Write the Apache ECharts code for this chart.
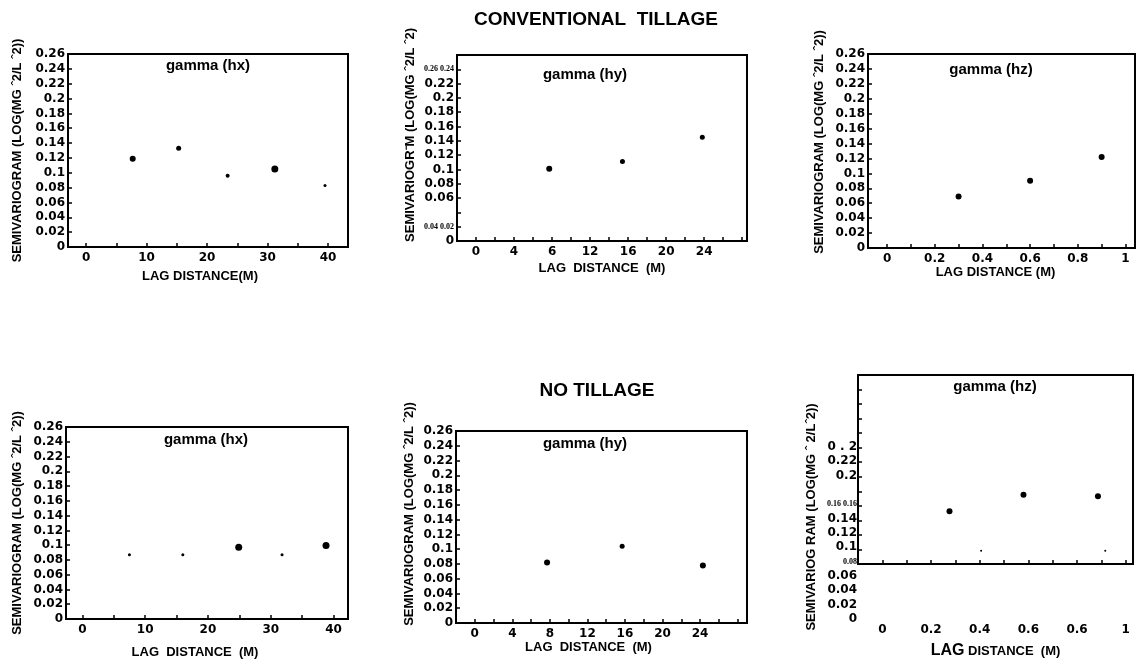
<!DOCTYPE html>
<html>
<head>
<meta charset="utf-8">
<script src="https://cdn.jsdelivr.net/npm/echarts@6/dist/echarts.min.js"></script>
<style>
  html, body { margin: 0; padding: 0; background: #fff; }
  #main { width: 1138px; height: 660px; }
</style>
</head>
<body>
<div id="main"></div>
<script>
// conventional tillage
const hxConvLag = [7.7, 15.3, 23.4, 31.2, 39.5];
const hxConvGamma = [0.119, 0.133, 0.096, 0.105, 0.083];
const hxConvDot = [6, 5, 4, 7, 3];

const hyConvLag = [7.7, 15.4, 23.8];
const hyConvGamma = [0.101, 0.111, 0.145];
const hyConvDot = [6, 5, 5];

const hzConvLag = [0.3, 0.6, 0.9];
const hzConvGamma = [0.069, 0.09, 0.122];
const hzConvDot = [6, 6, 6];

// no tillage
const hxNoLag = [7.5, 16, 24.9, 31.8, 38.8];
const hxNoGamma = [0.087, 0.087, 0.097, 0.087, 0.0995];
const hxNoDot = [3, 3, 7, 3, 7];

const hyNoLag = [7.7, 15.7, 24.3];
const hyNoGamma = [0.082, 0.104, 0.078];
const hyNoDot = [6, 5, 6];

const hzNoLag = [0.276, 0.58, 0.886, 0.406, 0.916];
const hzNoGamma = [0.15, 0.173, 0.171, 0.095, 0.095];
const hzNoDot = [6, 6, 6, 2, 2];

// tick labels
const lagTicksM = [0, 10, 20, 30, 40];
const lagTextM = ['0', '10', '20', '30', '40'];
const lagTicksY = [0, 4, 8, 12, 16, 20, 24];
const lagTextYConv = ['0', '4', '6', '12', '16', '20', '24'];
const lagTextYNo = ['0', '4', '8', '12', '16', '20', '24'];
const lagTicksZ = [0, 0.2, 0.4, 0.6, 0.8, 1];
const lagTextZConv = ['0', '0.2', '0.4', '0.6', '0.8', '1'];
const lagTextZNo = ['0', '0.2', '0.4', '0.6', '0.6', '1'];

const gammaTicksHyConv = [0, 0.02, 0.06, 0.08, 0.1, 0.12, 0.14, 0.16, 0.18, 0.2, 0.22, 0.24];
const gammaTextHyConv = ['0', '{s|0.04 0.02}', '0.06', '0.08', '0.1', '0.12', '0.14', '0.16', '0.18', '0.2', '0.22', '{s|0.26 0.24}'];
const gammaTicksHzNo = [0, 0.02, 0.04, 0.06, 0.08, 0.1, 0.12, 0.14, 0.16, 0.2, 0.22, 0.24];
const gammaTextHzNo = ['0', '0.02', '0.04', '0.06', '{s|0.08}', '0.1', '0.12', '0.14', '{s|0.16 0.16}', '0.2', '0.22', '0 . 2'];

const yTitle = 'SEMIVARIOGRAM (LOG(MG \u02C62/L \u02C62))';

function lookup(ticks, text) {
  return function (v) {
    const i = ticks.findIndex(t => Math.abs(t - v) < 1e-6);
    return i >= 0 ? text[i] : '';
  };
}

const labelFont = { color: '#000', fontFamily: 'DejaVu Sans', fontWeight: 'bold', fontSize: 12 };
const nameFont = { color: '#000', fontFamily: 'Liberation Sans', fontWeight: 'bold', fontSize: 13 };
const smallRich = { s: { fontFamily: 'Liberation Sans Narrow', fontSize: 8, color: '#000' } };
const dotStyle = { color: '#000', opacity: 1 };

const panels = [
  { grid: { left: 68, top: 54, width: 280, height: 193 }, x: [-3, 43.3], split: 9,
    xFmt: lookup(lagTicksM, lagTextM), lag: hxConvLag, gamma: hxConvGamma, dot: hxConvDot,
    yName: yTitle, yGap: 44, yPad: 0, xName: 'LAG DISTANCE(M)', xGap: 23, xPad: 16 },
  { grid: { left: 457, top: 55, width: 290, height: 186 }, x: [-2, 28.5], interval: 2,
    xFmt: lookup(lagTicksY, lagTextYConv), yFmt: lookup(gammaTicksHyConv, gammaTextHyConv),
    lag: hyConvLag, gamma: hyConvGamma, dot: hyConvDot,
    yName: 'SEMIVARIOGR\u207BM (LOG(MG \u02C62/L \u02C62)', yGap: 40, yPad: 26, xName: 'LAG  DISTANCE  (M)', xGap: 21, xPad: 0 },
  { grid: { left: 868, top: 54, width: 269, height: 194 }, x: [-0.08, 1.04], split: 11,
    xFmt: lookup(lagTicksZ, lagTextZConv), lag: hzConvLag, gamma: hzConvGamma, dot: hzConvDot,
    yName: yTitle, yGap: 42, yPad: 18, xName: 'LAG DISTANCE (M)', xGap: 14, xPad: 12 },
  { grid: { left: 66, top: 427, width: 282, height: 195 }, x: [-2.6, 42.3], split: 9,
    xFmt: lookup(lagTicksM, lagTextM), lag: hxNoLag, gamma: hxNoGamma, dot: hxNoDot,
    yName: yTitle, yGap: 42, yPad: 0, xName: 'LAG  DISTANCE  (M)', xGap: 27, xPad: 24 },
  { grid: { left: 456, top: 431, width: 291, height: 192 }, x: [-2, 29], interval: 2,
    xFmt: lookup(lagTicksY, lagTextYNo), lag: hyNoLag, gamma: hyNoGamma, dot: hyNoDot,
    yName: yTitle, yGap: 40, yPad: 26, xName: 'LAG  DISTANCE  (M)', xGap: 16, xPad: 26 }
];

const grids = [], xAxes = [], yAxes = [], series = [];

panels.forEach(function (p, i) {
  grids.push(Object.assign({ show: true, borderColor: '#000', borderWidth: 2 }, p.grid));
  const xa = {
    gridIndex: i, type: 'value', min: p.x[0], max: p.x[1],
    axisLine: { onZero: false, lineStyle: { color: '#000', width: 2 } },
    axisTick: { inside: true, length: 4, lineStyle: { color: '#000', width: 1.5 } },
    splitLine: { show: false },
    axisLabel: Object.assign({ margin: 5, formatter: p.xFmt, showMinLabel: true, showMaxLabel: true }, labelFont),
    name: p.xName, nameLocation: 'middle', nameGap: p.xGap,
    nameTextStyle: Object.assign({ padding: [0, p.xPad, 0, 0] }, nameFont)
  };
  if (p.interval) xa.interval = p.interval; else xa.splitNumber = p.split;
  xAxes.push(xa);
  yAxes.push({
    gridIndex: i, type: 'value', min: 0, max: 0.26, interval: 0.02,
    axisLine: { onZero: false, lineStyle: { color: '#000', width: 2 } },
    axisTick: { inside: true, length: 4, lineStyle: { color: '#000', width: 1.5 } },
    splitLine: { show: false },
    axisLabel: Object.assign({ margin: 3, rich: smallRich }, labelFont, p.yFmt ? { formatter: p.yFmt } : {}),
    name: p.yName, nameLocation: 'middle', nameGap: p.yGap,
    nameTextStyle: Object.assign({ padding: [0, 0, 0, p.yPad] }, nameFont)
  });
  series.push({
    type: 'scatter', xAxisIndex: i, yAxisIndex: i,
    data: p.lag.map((x, k) => [x, p.gamma[k]]),
    symbolSize: (v, prm) => p.dot[prm.dataIndex],
    itemStyle: dotStyle
  });
});

// no tillage gamma(hz): labels live on a 0..0.34 scale, the box only starts near 0.08
grids.push({ left: 858, top: 375, width: 275, height: 247, show: false });
xAxes.push({
  gridIndex: 5, type: 'value', min: -0.1, max: 1.03, splitNumber: 11,
  axisLine: { show: false }, axisTick: { show: false }, splitLine: { show: false },
  axisLabel: Object.assign({ margin: 5, formatter: lookup(lagTicksZ, lagTextZNo) }, labelFont),
  name: '{b|LAG} DISTANCE  (M)', nameLocation: 'middle', nameGap: 24,
  nameTextStyle: Object.assign({ rich: { b: { fontFamily: 'Liberation Sans', fontWeight: 'bold', fontSize: 16, color: '#000' } } }, nameFont)
});
yAxes.push({
  gridIndex: 5, type: 'value', min: 0, max: 0.34, interval: 0.02,
  axisLine: { show: false }, axisTick: { show: false }, splitLine: { show: false },
  axisLabel: Object.assign({ margin: 1, rich: smallRich, formatter: lookup(gammaTicksHzNo, gammaTextHzNo) }, labelFont),
  name: 'SEMIVARIOG RAM (LOG(MG \u02C6 2/L\u02C62))', nameLocation: 'middle', nameGap: 40,
  nameTextStyle: Object.assign({ padding: [0, 40, 0, 0] }, nameFont)
});
series.push({
  type: 'scatter', xAxisIndex: 5, yAxisIndex: 5,
  data: hzNoLag.map((x, k) => [x, hzNoGamma[k]]),
  symbolSize: (v, prm) => hzNoDot[prm.dataIndex],
  itemStyle: dotStyle
});

// the frame of that panel
grids.push({ left: 858, top: 375, width: 275, height: 189, show: true, borderColor: '#000', borderWidth: 2 });
xAxes.push({
  gridIndex: 6, type: 'value', min: -0.1, max: 1.03, splitNumber: 11,
  axisLine: { onZero: false, lineStyle: { color: '#000', width: 2 } },
  axisTick: { inside: true, length: 4, lineStyle: { color: '#000', width: 1.5 } },
  splitLine: { show: false }, axisLabel: { show: false }
});
yAxes.push({
  gridIndex: 6, type: 'value', min: 0.08, max: 0.34, interval: 0.02,
  axisLine: { onZero: false, lineStyle: { color: '#000', width: 2 } },
  axisTick: { inside: true, length: 4, lineStyle: { color: '#000', width: 1.5 } },
  splitLine: { show: false }, axisLabel: { show: false }
});

function label(text, x, y, size) {
  return {
    type: 'text', x: x, y: y, silent: true,
    style: {
      text: text, fill: '#000', fontFamily: 'Liberation Sans', fontWeight: 'bold', fontSize: size,
      align: 'center', verticalAlign: 'middle', textAlign: 'center', textVerticalAlign: 'middle'
    }
  };
}

const chart = echarts.init(document.getElementById('main'));
chart.setOption({
  animation: false,
  backgroundColor: '#fff',
  grid: grids,
  xAxis: xAxes,
  yAxis: yAxes,
  series: series,
  graphic: [
    label('CONVENTIONAL  TILLAGE', 596, 20, 19),
    label('NO TILLAGE', 597, 391, 19),
    label('gamma (hx)', 208, 66, 15),
    label('gamma (hy)', 585, 75, 15),
    label('gamma (hz)', 991, 70, 15),
    label('gamma (hx)', 206, 440, 15),
    label('gamma (hy)', 585, 444, 15),
    label('gamma (hz)', 995, 387, 15)
  ]
});
</script>
</body>
</html>
